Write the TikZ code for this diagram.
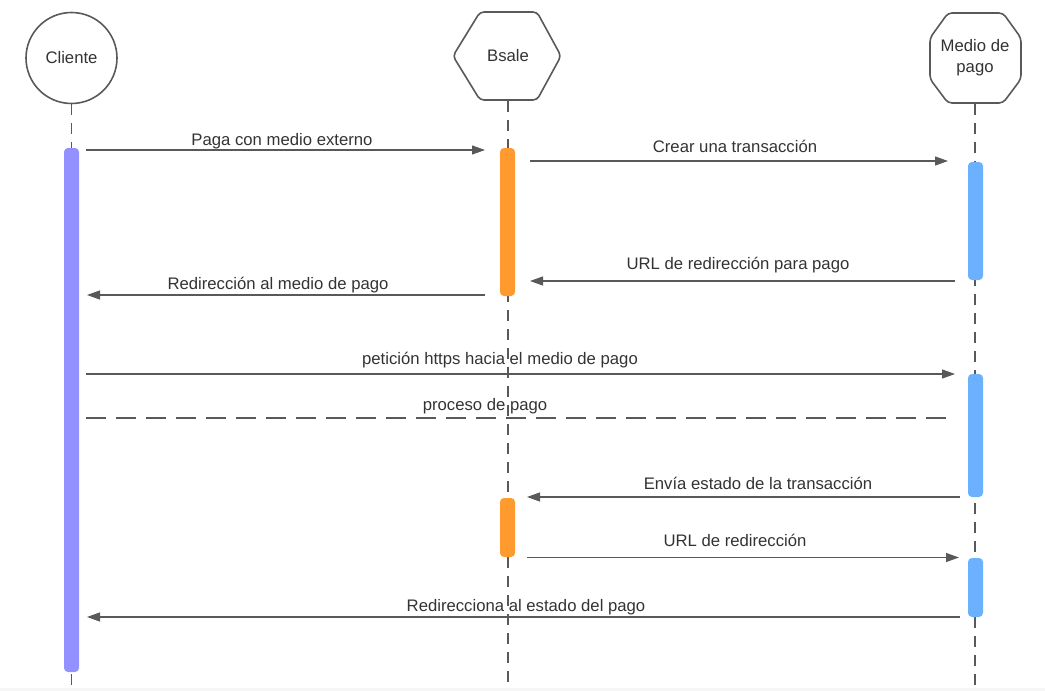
\documentclass[tikz,border=0pt]{standalone}
\usepackage{fontspec}
\setmainfont{Liberation Sans}
\usetikzlibrary{arrows.meta}
\definecolor{lineg}{HTML}{595959}
\definecolor{cpurple}{HTML}{9391FF}
\definecolor{corange}{HTML}{FF9A2E}
\definecolor{cblue}{HTML}{6BB1FF}
\definecolor{bottomg}{HTML}{F6F6F6}
\tikzset{
  actor/.style={draw=lineg, line width=1.6pt, fill=white},
  lifeline/.style={draw=lineg, line width=1.1pt, dash pattern=on 11pt off 8pt},
  actbar/.style={rounded corners=4pt, draw=none},
  msg/.style={draw=lineg, line width=1.2pt, -{Triangle[length=13pt,width=9pt]}},
  retmsg/.style={draw=lineg, line width=1.2pt, dash pattern=on 20pt off 10pt},
  lbl/.style={font=\fontsize{16.7}{19}\selectfont, text=black!80, inner sep=0pt, anchor=base},
  atext/.style={font=\fontsize{16.7}{19}\selectfont, text=black!80, align=center, inner sep=0pt}
}
\begin{document}
\begin{tikzpicture}[x=1pt,y=-1pt]
\useasboundingbox (0,0) rectangle (1045,691);
\fill[bottomg] (0,688) rectangle (1045,691);
% lifelines
\coordinate (cl0) at (71.5,104); \coordinate (cl1) at (71.5,688);
\coordinate (bs0) at (508,101); \coordinate (bs1) at (508,688);
\coordinate (md0) at (975,104); \coordinate (md1) at (975,688);
\draw[lifeline] (cl0) -- (cl1);
\draw[lifeline] (bs0) -- (bs1);
\draw[lifeline] (md0) -- (md1);
% actors
\draw[actor] (71.5,58) circle (45.5);
\node[atext] (cliente) at (71.5,58) {Cliente};
\draw[actor, rounded corners=4pt] (453,56) -- (480,12) -- (537,12) -- (561,56) -- (537,100) -- (480,100) -- cycle;
\node[atext] (bsale) at (508,56) {Bsale};
\draw[actor, rounded corners=4pt] (948,13) -- (1003,13) -- (1021,38) -- (1021,79) -- (1003,103) -- (948,103) -- (930,79) -- (930,38) -- cycle;
\node[atext, font=\fontsize{16.7}{21}\selectfont] (medio) at (975,58) {Medio de\\pago};
% activation bars
\fill[actbar, cpurple] (64,148) rectangle (79,672);
\fill[actbar, corange] (500,148) rectangle (515,296);
\fill[actbar, corange] (500,498) rectangle (515,557);
\fill[actbar, cblue] (968,162) rectangle (983,280);
\fill[actbar, cblue] (968,374) rectangle (983,497);
\fill[actbar, cblue] (968,558) rectangle (983,617);
% message endpoints
\coordinate (m1a) at (86,150); \coordinate (m1b) at (485,150);
\coordinate (m2a) at (530,161); \coordinate (m2b) at (948,161);
\coordinate (m3a) at (955,281); \coordinate (m3b) at (530,281);
\coordinate (m4a) at (485,295); \coordinate (m4b) at (87,295);
\coordinate (m5a) at (86,374); \coordinate (m5b) at (955,374);
\coordinate (m6a) at (86,418); \coordinate (m6b) at (955,418);
\coordinate (m7a) at (960,497); \coordinate (m7b) at (527,497);
\coordinate (m8a) at (527,557.5); \coordinate (m8b) at (959,557.5);
\coordinate (m9a) at (960,617); \coordinate (m9b) at (87,617);
\draw[msg] (m1a) -- (m1b);
\draw[msg] (m2a) -- (m2b);
\draw[msg] (m3a) -- (m3b);
\draw[msg] (m4a) -- (m4b);
\draw[msg] (m5a) -- (m5b);
\draw[retmsg] (m6a) -- (m6b);
\draw[msg] (m7a) -- (m7b);
\draw[msg] (m8a) -- (m8b);
\draw[msg] (m9a) -- (m9b);
% labels
\node[lbl] (l1) at (282,145.5) {Paga con medio externo};
\node[lbl] (l2) at (735,152) {Crear una transacción};
\node[lbl] (l3) at (738,269) {URL de redirección para pago};
\node[lbl] (l4) at (278,289) {Redirección al medio de pago};
\node[lbl] (l5) at (500,364) {petición https hacia el medio de pago};
\node[lbl] (l6) at (485,410.5) {proceso de pago};
\node[lbl] (l7) at (758,489) {Envía estado de la transacción};
\node[lbl] (l8) at (735,546) {URL de redirección};
\node[lbl] (l9) at (526,611) {Redirecciona al estado del pago};
\end{tikzpicture}
\end{document}
